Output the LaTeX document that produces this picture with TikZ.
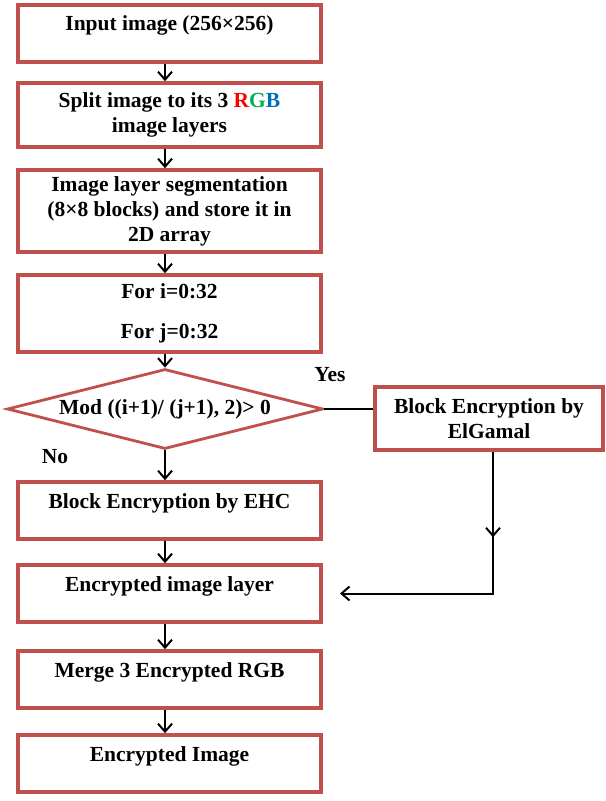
\documentclass[tikz,border=0pt]{standalone}
\usepackage{fontspec}
\setmainfont{Liberation Serif}
\usepackage{tikz}
\usetikzlibrary{arrows.meta, shapes.geometric, positioning, calc, decorations.markings}
\definecolor{boxred}{RGB}{192,80,77}
\definecolor{myR}{RGB}{255,0,0}
\definecolor{myG}{RGB}{0,176,80}
\definecolor{myB}{RGB}{0,112,192}
\tikzset{
   mybox/.style={draw=boxred, line width=1.8pt, minimum width=151.5pt, inner xsep=2pt, inner ysep=1.5pt},
   myone/.style={mybox, text height=11.5pt, text depth=14pt},
   mydec/.style={diamond, draw=boxred, line width=1.4pt, aspect=4, inner sep=0pt, minimum width=158pt, minimum height=40pt},
   mylabel/.style={draw=none}
}

\begin{document}
\begin{tikzpicture}[->,>={Straight Barb[length=4pt,width=7pt]},line width=1pt,
         every node/.style={font=\fontsize{10.75}{12.5}\selectfont\bfseries}]
      \useasboundingbox (0,0) rectangle (302.5pt,-400.5pt);
      \node[myone] (input) at (84.75pt,-16.75pt) {Input image (256×256)};
      \node[mybox, minimum height=32pt, align=center, below=8.7pt of input] (split)
         {Split image to its 3 \textcolor{myR}{R}\textcolor{myG}{G}\textcolor{myB}{B}\\image layers};
      \node[mybox, minimum height=41pt, align=center, below=9.7pt of split] (segment)
         {Image layer segmentation\\(8×8 blocks) and store it in\\2D array};
      \node[mybox, minimum height=38.5pt, align=center, below=9.7pt of segment] (loop)
         {For i=0:32\\[7.5pt]For j=0:32};
      \node[mydec, below=6.9pt of loop, xshift=-2.25pt] (dec) {Mod ((i+1)/ (j+1), 2)> 0};
      \node[mybox, minimum width=114pt, minimum height=31.5pt, align=center,
         right=24.4pt of dec, yshift=-4.75pt] (elgamal) {Block Encryption by\\ElGamal};
      \node[myone, below=14.9pt of dec, xshift=2.25pt] (ehc) {Block Encryption by EHC};
      \node[myone, below=11.2pt of ehc] (layer) {Encrypted image layer};
      \node[myone, below=12.7pt of layer] (merge) {Merge 3 Encrypted RGB};
      \node[myone, below=11.7pt of merge] (output) {Encrypted Image};
      \node[mylabel] (yes) at (165pt,-187.5pt) {Yes};
      \node[mylabel] (no) at (27.5pt,-228.5pt) {No};
      \draw (input.south -| dec.north) -- (split.north -| dec.north);
      \draw (split.south -| dec.north) -- (segment.north -| dec.north);
      \draw (segment.south -| dec.north) -- (loop.north -| dec.north);
      \draw (loop.south -| dec.north) -- (dec.north);
      \draw (dec.south) -- (ehc.north -| dec.south);
      \draw (ehc.south -| dec.south) -- (layer.north -| dec.south);
      \draw (layer.south -| dec.south) -- (merge.north -| dec.south);
      \draw (merge.south -| dec.south) -- (output.north -| dec.south);
      \draw[-] (dec.east) -- (dec.east -| elgamal.west);
      \draw[postaction={decorate}, decoration={markings, mark=at position 0.29 with {\arrow{>}}}]
         ([xshift=2pt]elgamal.south) |- ([xshift=8.6pt]layer.east);
\end{tikzpicture}
\end{document}
